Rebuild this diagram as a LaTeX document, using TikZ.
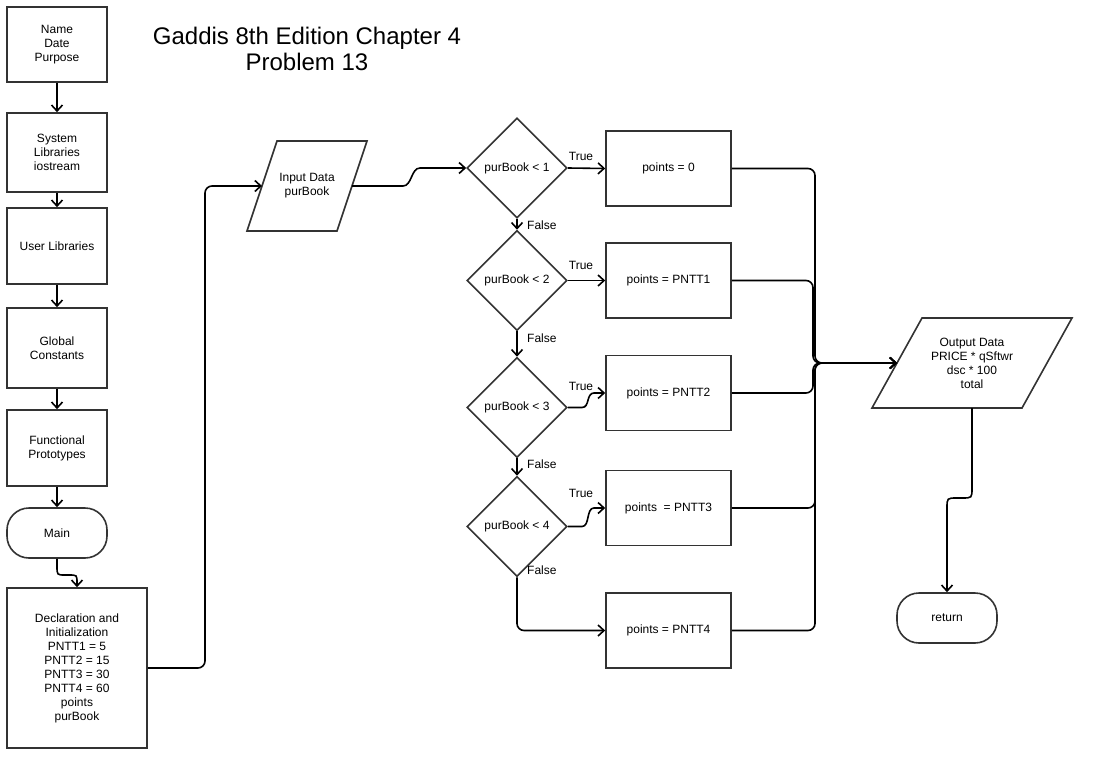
\documentclass[tikz,border=0pt]{standalone}
\usepackage{fontspec}
\setmainfont{Liberation Sans}
\usetikzlibrary{shapes.geometric,arrows.meta,calc}
\definecolor{boxc}{HTML}{333333}
\begin{document}
\begin{tikzpicture}[x=1pt,y=-1pt,
  every node/.style={font=\fontsize{12}{14}\selectfont, align=center, text=black},
  proc/.style={draw=boxc, line width=1.6pt, rectangle, inner sep=2pt},
  term/.style={draw=boxc, line width=1.6pt, rectangle, rounded corners=22pt, minimum width=100pt, minimum height=50pt},
  dec/.style={draw=boxc, line width=1.6pt, diamond, aspect=1, inner sep=0pt, minimum width=100pt, minimum height=100pt},
  iotext/.style={rectangle, inner sep=0pt},
  ioshape/.style={draw=boxc, line width=1.6pt, line join=miter},
  conn/.style={draw=black, line width=1.6pt},
  arr/.style={conn, -{Straight Barb[length=6pt,width=11pt]}},
  lbl/.style={inner sep=0pt, font=\fontsize{12}{14}\selectfont}
]
\useasboundingbox (0,0) rectangle (1097,757);

% title
\node[font=\fontsize{24}{26}\selectfont] (title) at (307,49) {Gaddis 8th Edition Chapter 4\\Problem 13};

% left column
\node[proc, minimum width=100pt, minimum height=75pt] (n1) at (57,44.5) {Name\\Date\\Purpose};
\node[proc, minimum width=100pt, minimum height=79pt] (n2) at (57,152.5) {System\\Libraries\\iostream};
\node[proc, minimum width=100pt, minimum height=76pt] (n3) at (57,246) {User Libraries};
\node[proc, minimum width=100pt, minimum height=80pt] (n4) at (57,348) {Global\\Constants};
\node[proc, minimum width=100pt, minimum height=76pt] (n5) at (57,448) {Functional\\Prototypes};
\node[term] (mainT) at (57,533) {Main};
\node[proc, minimum width=140pt, minimum height=160pt] (decl) at (77,668) {Declaration and\\Initialization\\PNTT1 = 5\\PNTT2 = 15\\PNTT3 = 30\\PNTT4 = 60\\points\\purBook};

% input (parallelogram)
\node[iotext, minimum width=120pt, minimum height=90pt] (inp) at (307,186) {Input Data\\purBook};
\draw[ioshape] (247,231) -- (277,141) -- (367,141) -- (337,231) -- cycle;
\coordinate (inpW) at (262,186);
\coordinate (inpE) at (352,186);

% decisions
\node[dec] (d1) at (517,168) {purBook {\textless} 1};
\node[dec] (d2) at (517,280.5) {purBook {\textless} 2};
\node[dec] (d3) at (517,407.5) {purBook {\textless} 3};
\node[dec] (d4) at (517,526.5) {purBook {\textless} 4};

% assignments
\node[proc, minimum width=125pt, minimum height=75pt] (b0) at (668.5,168.5) {points = 0};
\node[proc, minimum width=125pt, minimum height=75pt] (b1) at (668.5,280.5) {points = PNTT1};
\node[proc, minimum width=125pt, minimum height=75pt] (b2) at (668.5,393) {points = PNTT2};
\node[proc, minimum width=125pt, minimum height=75pt] (b3) at (668.5,508) {points \ = PNTT3};
\node[proc, minimum width=125pt, minimum height=75pt] (b4) at (668.5,630.5) {points = PNTT4};

% output (parallelogram) and return
\node[iotext, minimum width=200pt, minimum height=90pt] (out) at (972,363) {Output Data\\PRICE * qSftwr\\dsc * 100\\total};
\draw[ioshape] (872,408) -- (922,318) -- (1072,318) -- (1022,408) -- cycle;
\coordinate (outW) at (897,363);
\coordinate (outS) at (972,408);
\node[term] (ret) at (947,618) {return};

% left column connectors
\draw[arr] (n1.south) -- (n2.north);
\draw[arr] (n2.south) -- (n3.north);
\draw[arr] (n3.south) -- (n4.north);
\draw[arr] (n4.south) -- (n5.north);
\draw[arr] (n5.south) -- (mainT.north);
\draw[arr] (mainT.south) -- (57,566) .. controls (57,575) .. (65,575) -- (69,575) .. controls (77,575) .. (77,583) -- (decl.north);
\draw[arr, rounded corners=7pt] (decl.east) -- (205,668) -- (205,186) -- (inpW);
\draw[arr] (inpE) -- (403,186) .. controls (412,186) and (411,168) .. (420,168) -- (d1.west);

% decision connectors
\draw[arr] (d1.east) -- (b0.west);
\node[lbl] (t1) at (581,156) {True};
\draw[arr] (d1.south) -- (d2.north);
\node[lbl, anchor=west] (f1) at (527,225) {False};
\draw[arr] (d2.east) -- (b1.west);
\node[lbl] (t2) at (581,265) {True};
\draw[arr] (d2.south) -- (d3.north);
\node[lbl, anchor=west] (f2) at (527,338) {False};
\draw[arr] (d3.east) -- (582,407.5) .. controls (590,407.5) and (586,393) .. (594,393) -- (b2.west);
\node[lbl] (t3) at (581,386) {True};
\draw[arr] (d3.south) -- (d4.north);
\node[lbl, anchor=west] (f3) at (527,464) {False};
\draw[arr] (d4.east) -- (582,526.5) .. controls (590,526.5) and (586,508) .. (594,508) -- (b3.west);
\node[lbl] (t4) at (581,493) {True};
\draw[arr, rounded corners=7pt] (d4.south) -- (517,630.5) -- (b4.west);
\node[lbl, anchor=west] (f4) at (527,570) {False};

% merge connectors
\draw[arr, rounded corners=7pt] (b0.east) -- (815,168.5) -- (815,363) -- (outW);
\draw[arr, rounded corners=7pt] (b1.east) -- (813,280.5) -- (813,363) -- (outW);
\draw[arr, rounded corners=7pt] (b2.east) -- (813,393) -- (813,363) -- (outW);
\draw[arr, rounded corners=7pt] (b3.east) -- (815,508) -- (815,363) -- (outW);
\draw[arr, rounded corners=7pt] (b4.east) -- (815,630.5) -- (815,363) -- (outW);

\draw[arr] (outS) -- (972,488) .. controls (972,498) .. (962,498) -- (957,498) .. controls (947,498) .. (947,508) -- (ret.north);
\end{tikzpicture}
\end{document}
